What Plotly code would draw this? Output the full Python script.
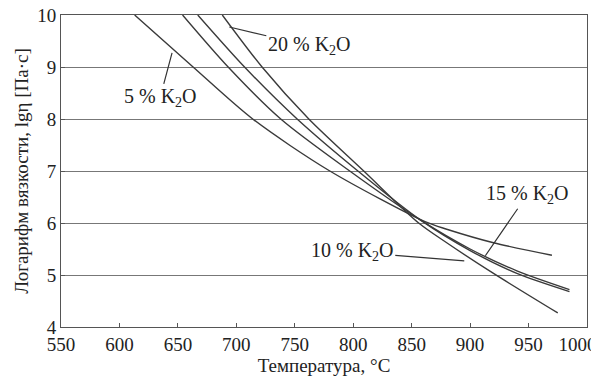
import plotly.graph_objects as go

# Temperature (°C) and log viscosity values
t_5 = [613, 663, 714, 780, 862, 880, 920, 970]
v_5 = [10.0, 9.0, 8.0, 7.0, 6.02, 5.88, 5.62, 5.38]

t_10 = [654, 693, 738, 797, 858, 900, 940, 985]
v_10 = [10.0, 9.0, 8.0, 7.0, 6.05, 5.5, 5.08, 4.72]

t_15 = [667, 707, 752, 804, 858, 900, 940, 985]
v_15 = [10.0, 9.0, 8.0, 7.0, 6.05, 5.47, 5.03, 4.68]

t_20 = [688, 722, 762, 809, 856, 880, 920, 975]
v_20 = [10.0, 9.0, 8.0, 7.0, 6.0, 5.62, 5.03, 4.27]

x_ticks = [550, 600, 650, 700, 750, 800, 850, 900, 950, 1000]
y_ticks = [4, 5, 6, 7, 8, 9, 10]

labels = ["5 % K<sub>2</sub>O", "10 % K<sub>2</sub>O", "15 % K<sub>2</sub>O", "20 % K<sub>2</sub>O"]

FONT = "Liberation Serif, Times New Roman, serif"
LINE = "#3a3a3a"

fig = go.Figure()
for t, v in [(t_5, v_5), (t_10, v_10), (t_15, v_15), (t_20, v_20)]:
    fig.add_trace(go.Scatter(x=t, y=v, mode="lines",
                             line=dict(color=LINE, width=1.4, shape="spline", smoothing=0.8),
                             showlegend=False, hoverinfo="skip"))

ann_font = dict(family=FONT, size=20, color="#222")
# (label, pointer end x, pointer end y, ax, ay)
pointers = [
    (labels[0], 645, 9.27, -12, 45),
    (labels[1], 895, 5.27, -112, -9),
    (labels[2], 913, 5.37, 42, -61),
    (labels[3], 694, 9.77, 80, 19),
]
for text, px, py, ax, ay in pointers:
    fig.add_annotation(x=px, y=py, text=text, showarrow=True, arrowhead=0,
                       arrowwidth=1.2, arrowcolor="#333", ax=ax, ay=ay,
                       font=ann_font, bgcolor="rgba(255,255,255,0)")

# last tick label nudged left (as in the reference) with invisible padding
x_ticktext = [str(v) for v in x_ticks]
x_ticktext[-1] = x_ticktext[-1] + "<span style='color:rgba(0,0,0,0)'>00</span>"

fig.update_layout(
    width=599, height=379,
    margin=dict(l=53, r=20, t=7, b=60),
    paper_bgcolor="white", plot_bgcolor="white",
    font=dict(family=FONT, size=19, color="#222"),
)
fig.update_xaxes(range=[550, 1000], tickvals=x_ticks, ticktext=x_ticktext,
                 ticks="inside", ticklen=4, ticklabeloverflow="allow",
                 tickcolor="#555", showline=True, linecolor="#555", linewidth=1,
                 mirror=True, showgrid=False, zeroline=False, automargin=False,
                 title=dict(text="Температура, °C", font=dict(size=19), standoff=2))
fig.update_yaxes(range=[4, 10], tickvals=y_ticks, ticks="inside", ticklen=4,
                 tickcolor="#555", showline=True, linecolor="#555", linewidth=1,
                 mirror=True, showgrid=True, gridcolor="#777", gridwidth=1,
                 zeroline=False, automargin=False, ticklabeloverflow="allow",
                 title=dict(text="Логарифм вязкости, lgη [Па·с]", font=dict(size=19), standoff=3))

fig.write_html("out.html")
